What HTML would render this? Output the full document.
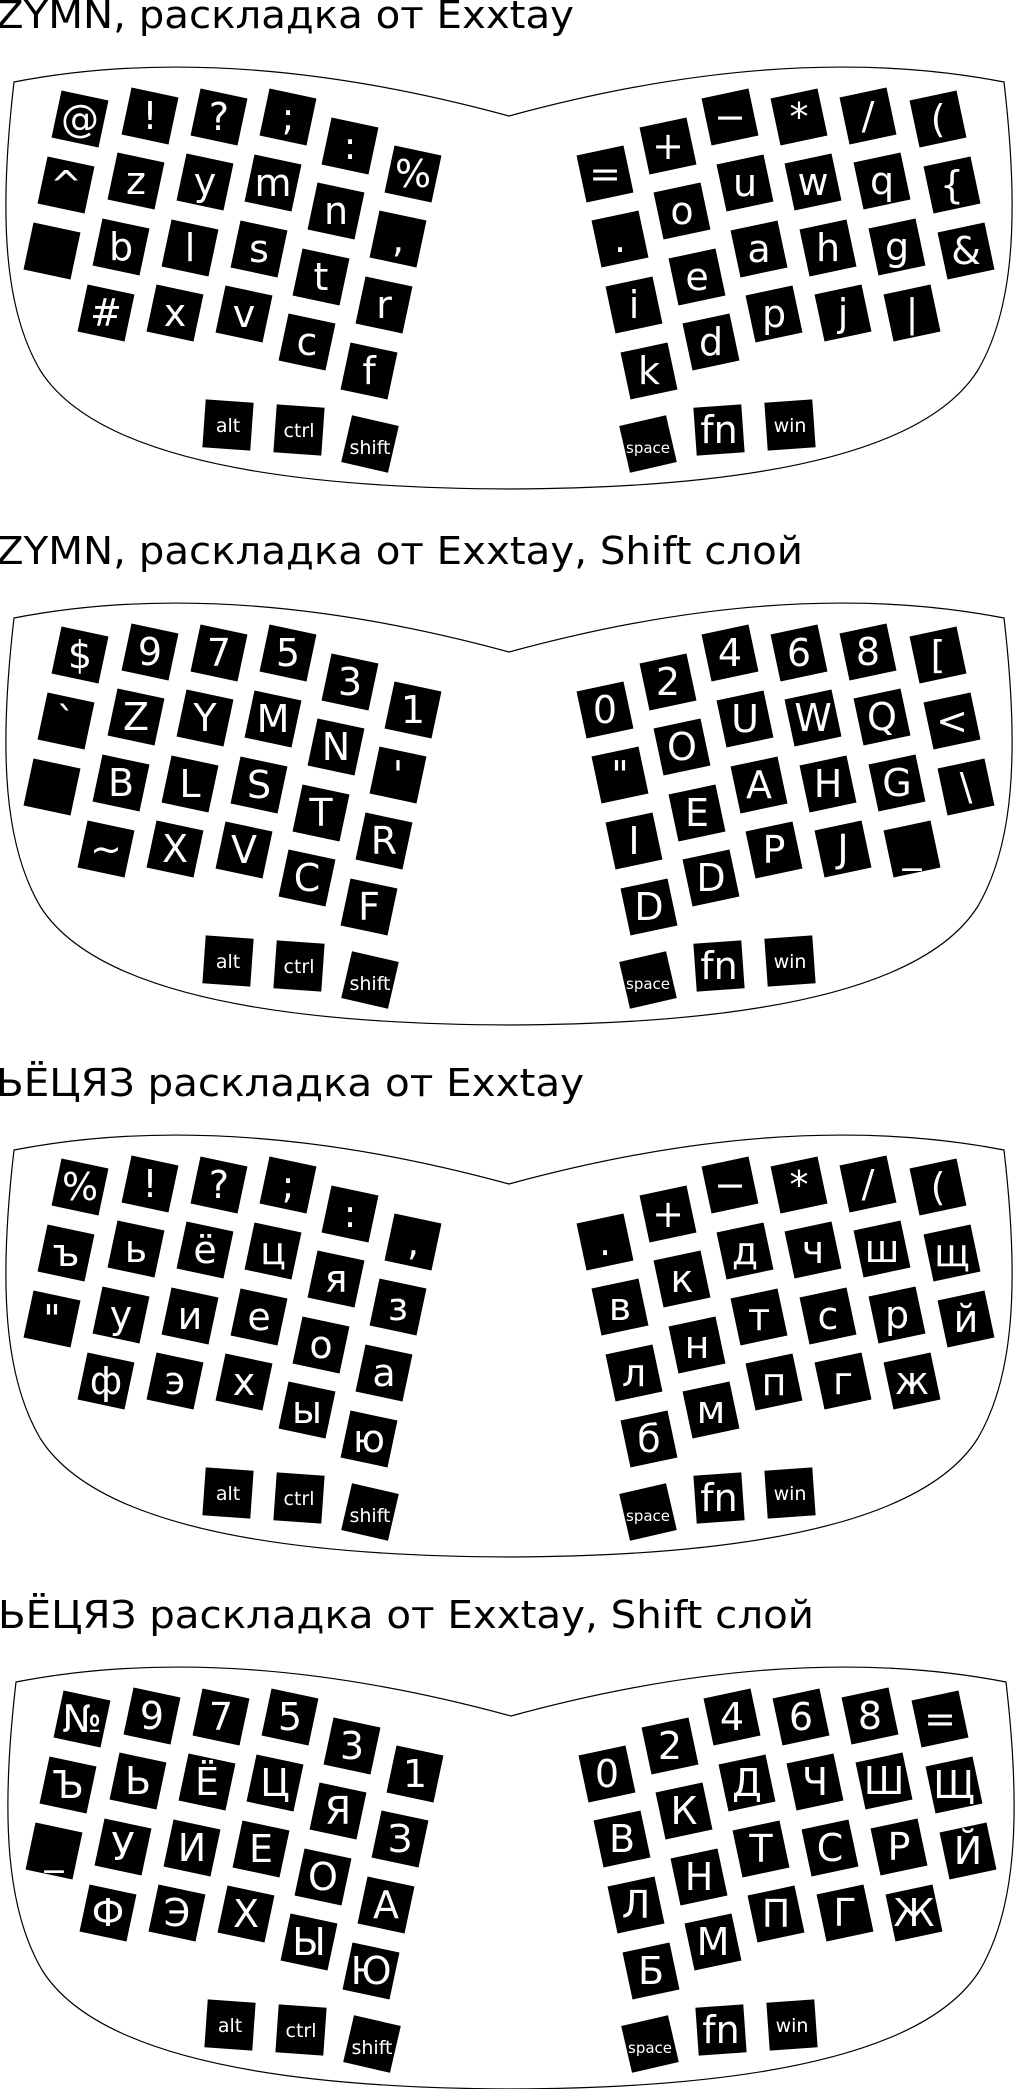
<!DOCTYPE html>
<html><head><meta charset="utf-8">
<style>
html,body{margin:0;padding:0;background:#fff;}
svg{display:block;}
text{font-family:"DejaVu Sans","Liberation Sans","Noto Sans CJK SC",sans-serif;}
</style></head>
<body>
<svg id="chart" width="1020" height="2089" viewBox="0 0 1020 2089" xmlns="http://www.w3.org/2000/svg"></svg>
<script>
// Section titles and vertical offsets
const titles = ["ZYMN, раскладка от Exxtay","ZYMN, раскладка от Exxtay, Shift слой","ЬЁЦЯЗ раскладка от Exxtay","ЬЁЦЯЗ раскладка от Exxtay, Shift слой"];
const titleWidths = [574, 803, 584, 812];
const sectionY = [0, 536, 1068, 1600];
const sectionX = [0, 0, 0, 2];
// Left-hand keys, rows listed outer -> inner
const leftRows = [
 [["@","!","?",";",":","%"],["^","z","y","m","n",","],["","b","l","s","t","r"],["#","x","v","c","f"]],
 [["$","9","7","5","3","1"],["`","Z","Y","M","N","'"],["","B","L","S","T","R"],["~","X","V","C","F"]],
 [["%","!","?",";",":",","],["ъ","ь","ё","ц","я","з"],["\"","у","и","е","о","а"],["ф","э","х","ы","ю"]],
 [["№","9","7","5","3","1"],["Ъ","Ь","Ё","Ц","Я","З"],["_","У","И","Е","О","А"],["Ф","Э","Х","Ы","Ю"]]
];
// Right-hand keys, rows listed outer -> inner
const rightRows = [
 [["(","/","*","−","+","="],["{","q","w","u","o","."],["&","g","h","a","e","i"],["|","j","p","d","k"]],
 [["[","8","6","4","2","0"],["<","Q","W","U","O","\""],["\\","G","H","A","E","I"],["_","J","P","D","D"]],
 [["(","/","*","−","+","."],["щ","ш","ч","д","к","в"],["й","р","с","т","н","л"],["ж","г","п","м","б"]],
 [["=","8","6","4","2","0"],["Щ","Ш","Ч","Д","К","В"],["Й","Р","С","Т","Н","Л"],["Ж","Г","П","М","Б"]]
];
const leftMods = ["alt","ctrl","shift"];
const rightMods = ["win","fn","space"];

// geometry (layout, not data)
const gx = [[80,150,219,288,350,413],[66,136,205,273,336,398],[52,121,190,259,321,384],[106,175,244,307,369]];
const gy = [[119,116,117,117,146,174],[185,181,182,183,211,239],[251,247,248,249,277,305],[313,313,314,342,371]];
const modX=[228,299,370], modY=[425,430,444], modRot=[4,4,13];
const MIRROR=1018, KS=48;
const NS="http://www.w3.org/2000/svg";
const svg=document.getElementById('chart');
function mk(tag,attrs,parent){const e=document.createElementNS(NS,tag);for(const k in attrs)e.setAttribute(k,attrs[k]);parent.appendChild(e);return e;}
function key(parent,cx,cy,rot,label,fs,by,name){
  const g=mk('g',{transform:`translate(${cx},${cy})`},parent);
  
  
  mk('rect',{x:-KS/2,y:-KS/2,width:KS,height:KS,fill:'#000',transform:`rotate(${rot})`},g);
  if(label!==""){const t=mk('text',{x:0,y:by,'text-anchor':'middle','font-size':fs,fill:'#fff'},g);t.textContent=label;}
}
titles.forEach((title,s)=>{
  const sec=mk('g',{transform:`translate(${sectionX[s]},${sectionY[s]})`},svg);
  
  
  const t=mk('text',{x:-4,y:28,'font-size':38,fill:'#000',textLength:titleWidths[s]+4,lengthAdjust:'spacingAndGlyphs'},sec);
  
  
  t.textContent=title;
  const p=mk('path',{d:'M14,82 Q230,40 509,116 Q788,40 1004,82 C1020,220 1013,310 978,370 C928,450 768,488 509,489 C250,488 90,450 40,370 C5,310 -2,220 14,82 Z',fill:'none',stroke:'#000','stroke-width':1.2},sec);
  
  
  leftRows[s].forEach((row,r)=>row.forEach((lab,i)=>{
    key(sec,gx[r][i],gy[r][i],12,lab,38,13,'left-key');
  }));
  rightRows[s].forEach((row,r)=>row.forEach((lab,i)=>{
    key(sec,MIRROR-gx[r][i],gy[r][i],-12,lab,38,13,'right-key');
  }));
  leftMods.forEach((lab,i)=>key(sec,modX[i],modY[i],modRot[i],lab,19,i==2?10:7,lab+'-key'));
  rightMods.forEach((lab,i)=>{
    const fs = lab==='fn'?38:(lab==='space'?15:19);
    const by = lab==='fn'?13:(lab==='space'?9:7);
    key(sec,MIRROR-modX[i],modY[i],-modRot[i],lab,fs,by,lab+'-key');
  });
});
</script>
</body></html>
